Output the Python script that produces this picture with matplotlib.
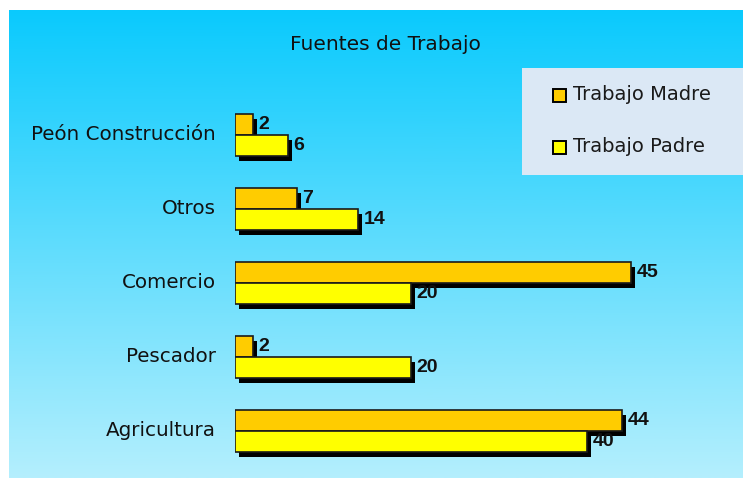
import numpy as np
import matplotlib
matplotlib.use('Agg')
import matplotlib.pyplot as plt
import matplotlib.patheffects as pe

# data (bottom to top)
categorias = ["Agricultura", "Pescador", "Comercio", "Otros", "Peón Construcción"]
madre = [44, 2, 45, 7, 2]
padre = [40, 20, 20, 14, 6]

W, H = 743, 478
fig = plt.figure(figsize=(W / 100, H / 100), dpi=100)
fig.patch.set_facecolor('white')

# gradient background
bg = fig.add_axes([9 / W, 0, 1 - 9 / W, (H - 10) / H])
top = np.array([0x0a, 0xca, 0xfd]) / 255
bot = np.array([0xb4, 0xef, 0xfd]) / 255
t = np.linspace(0, 1, 256)[:, None]
grad = (top * (1 - t) + bot * t)[:, None, :]
bg.imshow(grad, aspect='auto', extent=[0, 1, 0, 1])
bg.set_axis_off()

fig.text(385 / W, 1 - 45 / H, "Fuentes de Trabajo", ha='center', va='center',
         fontsize=14.5, color='#111111')

# legend box
lg = fig.add_axes([522 / W, 1 - 175 / H, (W - 522) / W, 107 / H])
lg.set_facecolor('#dbe8f5')
lg.set_xticks([])
lg.set_yticks([])
for s in lg.spines.values():
    s.set_visible(False)
lg.set_xlim(0, W - 522)
lg.set_ylim(107, 0)
for yy, col, lab in [(27, '#ffcc00', 'Trabajo Madre'), (79, '#ffff00', 'Trabajo Padre')]:
    lg.add_patch(plt.Rectangle((31, yy - 6.5), 13, 13, facecolor=col, edgecolor='black', lw=1.4))
    lg.text(51, yy, lab, va='center', ha='left', fontsize=14, color='#1a1a1a')

# bars
ax = fig.add_axes([235 / W, 0, (W - 235) / W, (H - 80) / H])
ax.patch.set_alpha(0)
ax.set_xlim(0, (W - 235) / 8.8)
ax.set_ylim(-47 / 74, 351 / 74)
y = np.arange(len(categorias))
h = 0.284
shadow = [pe.SimplePatchShadow(offset=(3, -3.5), shadow_rgbFace='black', alpha=1), pe.Normal()]
b1 = ax.barh(y + h / 2, madre, height=h, color='#ffcc00', edgecolor='#1a1a1a', lw=1.2)
b2 = ax.barh(y - h / 2, padre, height=h, color='#ffff00', edgecolor='#1a1a1a', lw=1.2)
for b in list(b1) + list(b2):
    b.set_path_effects(shadow)

for yy, v in zip(y + h / 2, madre):
    ax.annotate(str(v), xy=(v, yy), xytext=(4, 0), textcoords='offset points',
                va='center', ha='left', fontsize=14, fontweight='bold',
                family='Liberation Sans', color='#111111')
for yy, v in zip(y - h / 2, padre):
    ax.annotate(str(v), xy=(v, yy), xytext=(4, 0), textcoords='offset points',
                va='center', ha='left', fontsize=14, fontweight='bold',
                family='Liberation Sans', color='#111111')

ax.set_yticks(y + 0.03, categorias)
ax.set_xticks([])
ax.tick_params(axis='y', length=0, pad=14, labelsize=14.3, labelcolor='#111111')
for s in ax.spines.values():
    s.set_visible(False)

fig.savefig('out.png', dpi=100)
